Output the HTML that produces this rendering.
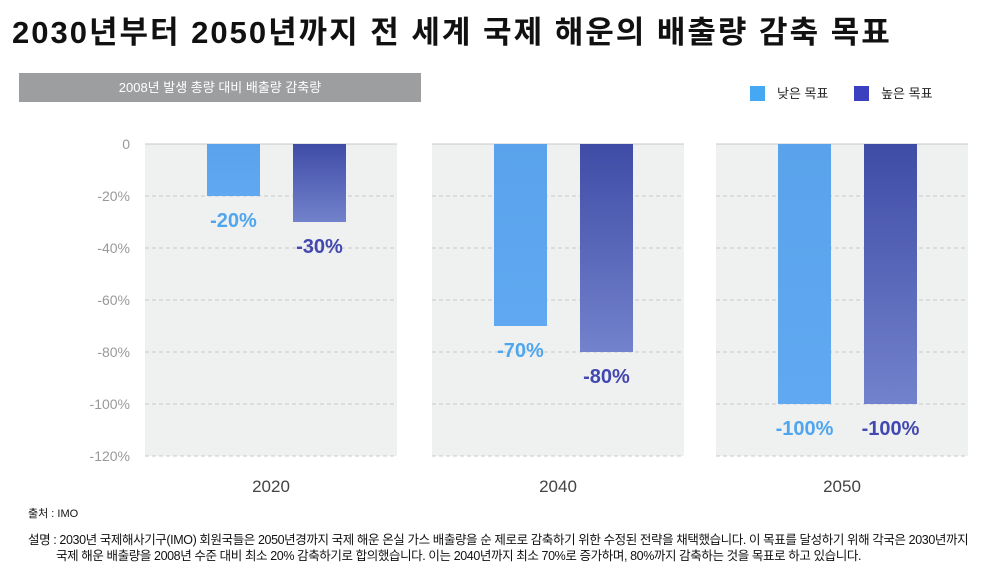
<!DOCTYPE html>
<html><head><meta charset="utf-8">
<style>
body{margin:0;width:1000px;height:586px;background:#fff;font-family:"Liberation Sans","Noto Sans CJK KR",sans-serif;overflow:hidden;position:relative}
.abs{position:absolute}
</style></head><body>
<div class="abs" style="left:12px;top:7px;font-size:31px;font-weight:bold;color:#111;letter-spacing:2px;white-space:nowrap">2030년부터 2050년까지 전 세계 국제 해운의 배출량 감축 목표</div>
<div class="abs" style="left:19px;top:73px;width:402px;height:29px;background:#9d9ea0;color:#fff;font-size:13px;line-height:29px;text-align:center">2008년 발생 총량 대비 배출량 감축량</div>
<div class="abs" style="left:750px;top:83px;font-size:13px;color:#222">
<span><span style="display:inline-block;width:15px;height:15px;background:#45a8f2;vertical-align:-3px;margin-right:12px"></span>낮은 목표</span>
<span style="margin-left:22px"><span style="display:inline-block;width:15px;height:15px;background:#3b3fc0;vertical-align:-3px;margin-right:12px"></span>높은 목표</span>
</div>
<svg class="abs" style="left:0;top:0" width="1000" height="586" id="chart">
<defs>
<linearGradient id="gl" x1="0" y1="0" x2="0" y2="1"><stop offset="0" stop-color="#5aa3ec"/><stop offset="1" stop-color="#60a9f2"/></linearGradient>
<linearGradient id="gd" x1="0" y1="0" x2="0" y2="1"><stop offset="0" stop-color="#3f4ca6"/><stop offset="1" stop-color="#7382cc"/></linearGradient>
</defs>
</svg>
<div class="abs" style="left:28px;top:505px;font-size:11px;color:#111">출처 : IMO</div>
<div class="abs" style="left:28px;top:532px;width:990px;font-size:12.5px;color:#111;line-height:16px;letter-spacing:-0.4px;white-space:nowrap">설명 : 2030년 국제해사기구(IMO) 회원국들은 2050년경까지 국제 해운 온실 가스 배출량을 순 제로로 감축하기 위한 수정된 전략을 채택했습니다. 이 목표를 달성하기 위해 각국은 2030년까지<br><span style="padding-left:28px">국제 해운 배출량을 2008년 수준 대비 최소 20% 감축하기로 합의했습니다. 이는 2040년까지 최소 70%로 증가하며, 80%까지 감축하는 것을 목표로 하고 있습니다.</span></div>
<script>
const years=["2020","2040","2050"];
const lowTarget=[-20,-70,-100];
const highTarget=[-30,-80,-100];
const ticks=[0,-20,-40,-60,-80,-100,-120];
const tickLabels=["0","-20%","-40%","-60%","-80%","-100%","-120%"];
const svg=document.getElementById('chart');
const NS='http://www.w3.org/2000/svg';
const y=v=>144+(-v)/120*312;
const panels=[145,432,716], pw=252;
function mk(t,a){const e=document.createElementNS(NS,t);for(const k in a)e.setAttribute(k,a[k]);svg.appendChild(e);return e;}
years.forEach((yr,i)=>{
  const p=mk('rect',{x:panels[i],y:y(0),width:pw,height:y(-120)-y(0),fill:'#eff0f0'});
  
  
});
ticks.forEach((t,i)=>{
  panels.forEach(px=>{
    const l=mk('line',{x1:px,x2:px+pw,y1:y(t),y2:y(t),stroke:'#c8c8c8','stroke-dasharray':i==0?'none':'4,3','stroke-width':1});
    
    
  });
  const tx=mk('text',{x:130,y:y(t)+5,'text-anchor':'end','font-size':14,fill:'#999'});
  tx.textContent=tickLabels[i];
  
  
});
years.forEach((yr,i)=>{
  const px=panels[i];
  [[lowTarget,'url(#gl)','#4fa6ee',62,'low'],[highTarget,'url(#gd)','#4248b0',148,'high']].forEach(([arr,fill,col,off,nm])=>{
    const v=arr[i];
    const r=mk('rect',{x:px+off,y:y(0),width:53,height:y(v)-y(0),fill:fill});
    
    
    const t=mk('text',{x:px+off+26.5,y:y(v)+31,'text-anchor':'middle','font-size':20,'font-weight':'bold',fill:col});
    t.textContent=v+'%';
    
    
  });
  const yl=mk('text',{x:px+pw/2,y:492,'text-anchor':'middle','font-size':17,fill:'#444'});
  yl.textContent=yr;
  
  
});
</script>
</body></html>
